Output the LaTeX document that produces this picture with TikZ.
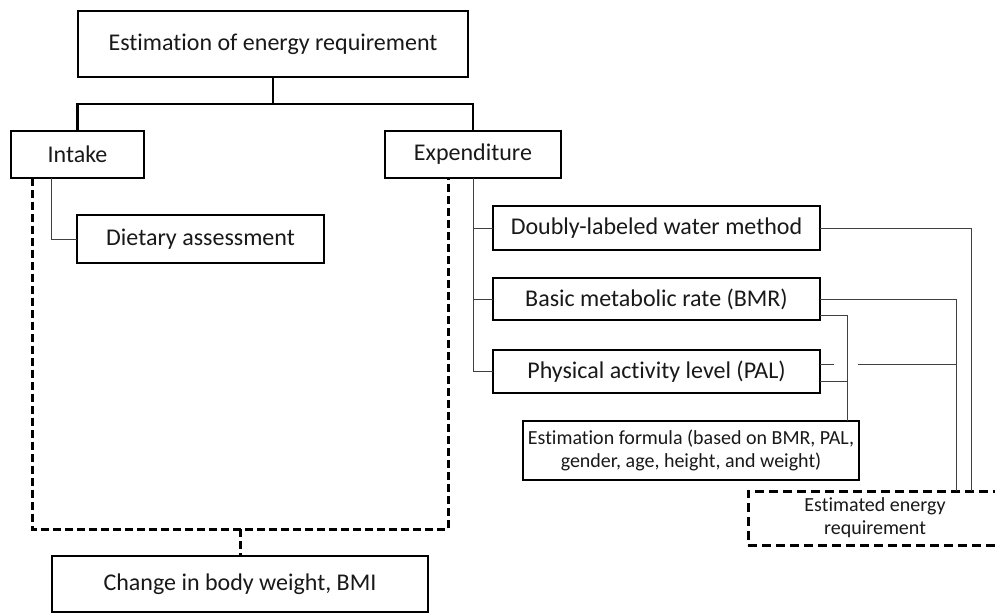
\documentclass[tikz,border=0pt]{standalone}
\usepackage{fontspec}
\setmainfont{Carlito}[Ligatures=NoCommon]
\usetikzlibrary{calc}
\begin{document}
\begin{tikzpicture}[x=1pt,y=-1pt,
 bx/.style={draw=black, line width=2pt, inner sep=0pt, outer sep=0pt, align=center, text=black!90},
 thickbx/.style={bx, line width=2.8pt},
 big/.style={font=\fontsize{24}{28}\selectfont},
 small/.style={font=\fontsize{20}{23}\selectfont},
 trunk/.style={line width=2.5pt, line cap=rect},
 conn/.style={line width=1pt, draw=black!75},
 dashln/.style={line width=3pt, dash pattern=on 8pt off 4pt}
]
\path[use as bounding box, clip] (0,0) rectangle (995,614);
\fill[white] (0,0) rectangle (995,614);

% nodes
\node[thickbx, big, minimum width=390pt, minimum height=66pt] (top) at (273,44) {Estimation of energy requirement};
\node[thickbx, big, minimum width=133pt, minimum height=47pt] (intake) at (77.5,154.5) {Intake};
\node[thickbx, big, minimum width=176pt, minimum height=47pt] (exp) at (473,154.5) {Expenditure};
\node[bx, big, minimum width=247pt, minimum height=48pt] (diet) at (200.5,239) {Dietary assessment};
\node[bx, big, minimum width=327pt, minimum height=44pt] (dlw) at (656.5,228) {Doubly-labeled water method};
\node[bx, big, minimum width=327pt, minimum height=42pt] (bmr) at (656.5,299) {Basic metabolic rate (BMR)};
\node[bx, big, minimum width=327pt, minimum height=43pt] (pal) at (656.5,371.5) {Physical activity level (PAL)};
\node[bx, small, minimum width=336pt, minimum height=59pt] (formula) at (691,450.5) {Estimation formula (based on BMR, PAL,\\gender, age, height, and weight)};
\node[bx, small, line width=3pt, dash pattern=on 9pt off 5pt, minimum width=254pt, minimum height=54pt] (est) at (875,518) {Estimated energy\\requirement};
\node[thickbx, big, minimum width=376pt, minimum height=56pt] (change) at (240,584) {Change in body weight, BMI};

% coordinates
\coordinate (split) at (273,104);
\coordinate (iA) at (51,178);
\coordinate (dL) at (32,178);
\coordinate (dLb) at (32,529);
\coordinate (dRb) at (448,529);
\coordinate (dR) at (448,178);
\coordinate (dmid) at (240,529);
\coordinate (estA) at (971,491);
\coordinate (estB) at (956,491);
\coordinate (bmrL) at (820,315);
\coordinate (fA) at (847,421);
\coordinate (palU) at (820,364);
\coordinate (palUe) at (834,364);
\coordinate (gapS) at (858,364);
\coordinate (palL) at (820,381);

% trunk connectors
\draw[trunk] (top.south) -- (split);
\draw[trunk, line cap=butt] (intake.north) |- (split) -| (exp.north);

% intake branch
\draw[conn] (iA) |- (diet.west);

% expenditure branches
\draw[conn] (exp.south) |- (dlw.west);
\draw[conn] (exp.south) |- (bmr.west);
\draw[conn] (exp.south) |- (pal.west);

% dashed enclosure
\draw[dashln] (dL) -- (dLb) -- (dRb) -- (dR);
\draw[dashln] (dmid) -- (change.north);

% right-side connectors
\draw[conn] (dlw.east) -| (estA);
\draw[conn] (bmr.east) -| (estB);
\draw[conn] (bmrL) -| (fA);
\draw[conn] (palU) -- (palUe);
\draw[conn] (gapS) -- (gapS -| estB);
\draw[conn] (palL) -- (palL -| fA);
\end{tikzpicture}
\end{document}
